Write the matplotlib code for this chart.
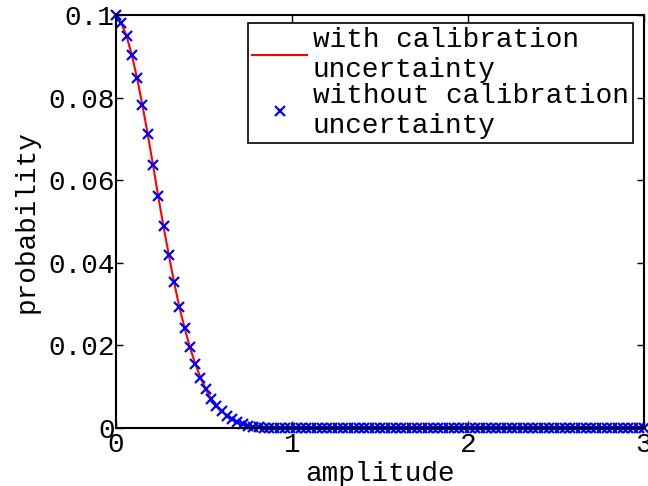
import numpy as np
import matplotlib
matplotlib.use("Agg")
import matplotlib.pyplot as plt

# amplitude grid (step 0.03 from 0 to 3)
amplitude = np.linspace(0, 3, 101)

# probability; tail is zero
head = [0.1000, 0.0980, 0.0949, 0.0903, 0.0847, 0.0782, 0.0712, 0.0638,
        0.0561, 0.0488, 0.0419, 0.0353, 0.0293, 0.0242, 0.0195, 0.0156,
        0.0122, 0.0094, 0.0070, 0.0054, 0.0041, 0.0030, 0.0022, 0.0015,
        0.0010, 0.0006, 0.0003, 0.0002, 0.0001]
without_cal = np.array(head + [0.0] * (101 - len(head)))
with_cal = without_cal.copy()

label_with = "with calibration\nuncertainty"
label_without = "without calibration\nuncertainty"

plt.rcParams['font.family'] = ['Liberation Mono', 'DejaVu Sans Mono']
plt.rcParams['font.size'] = 20

fig = plt.figure(figsize=(6.48, 4.86), dpi=100)
ax = fig.add_axes([116 / 648, 1 - 428 / 486, 528 / 648, 413 / 486])

ax.plot(amplitude, with_cal, color='red', lw=1.5, label=label_with)
ax.plot(amplitude, without_cal, 'x', color='blue', ms=7, mew=1.6,
        label=label_without, clip_on=False)

ax.set_xlim(0, 3)
ax.set_ylim(0, 0.1)
ax.set_xticks([0, 1, 2, 3])
ax.set_xticklabels(['0', '1', '2', '3'])
ax.set_yticks([0, 0.02, 0.04, 0.06, 0.08, 0.1])
ax.set_yticklabels(['0', '0.02', '0.04', '0.06', '0.08', '0.1'])
ax.tick_params(direction='in', top=True, right=True, length=5, width=1)
ax.tick_params(axis='x', pad=3)
ax.tick_params(axis='y', pad=1)
for s in ax.spines.values():
    s.set_linewidth(1.5)

ax.set_xlabel('amplitude', labelpad=2)
ax.set_ylabel('probability', labelpad=6)

leg = ax.legend(loc='upper right', bbox_to_anchor=(0.979, 0.981),
                borderaxespad=0, fancybox=False, framealpha=1,
                edgecolor='black', handlelength=2.0, handletextpad=0.2,
                labelspacing=0.0, borderpad=0.15)
leg.get_frame().set_linewidth(1.2)

fig.savefig('out.png', dpi=100)
